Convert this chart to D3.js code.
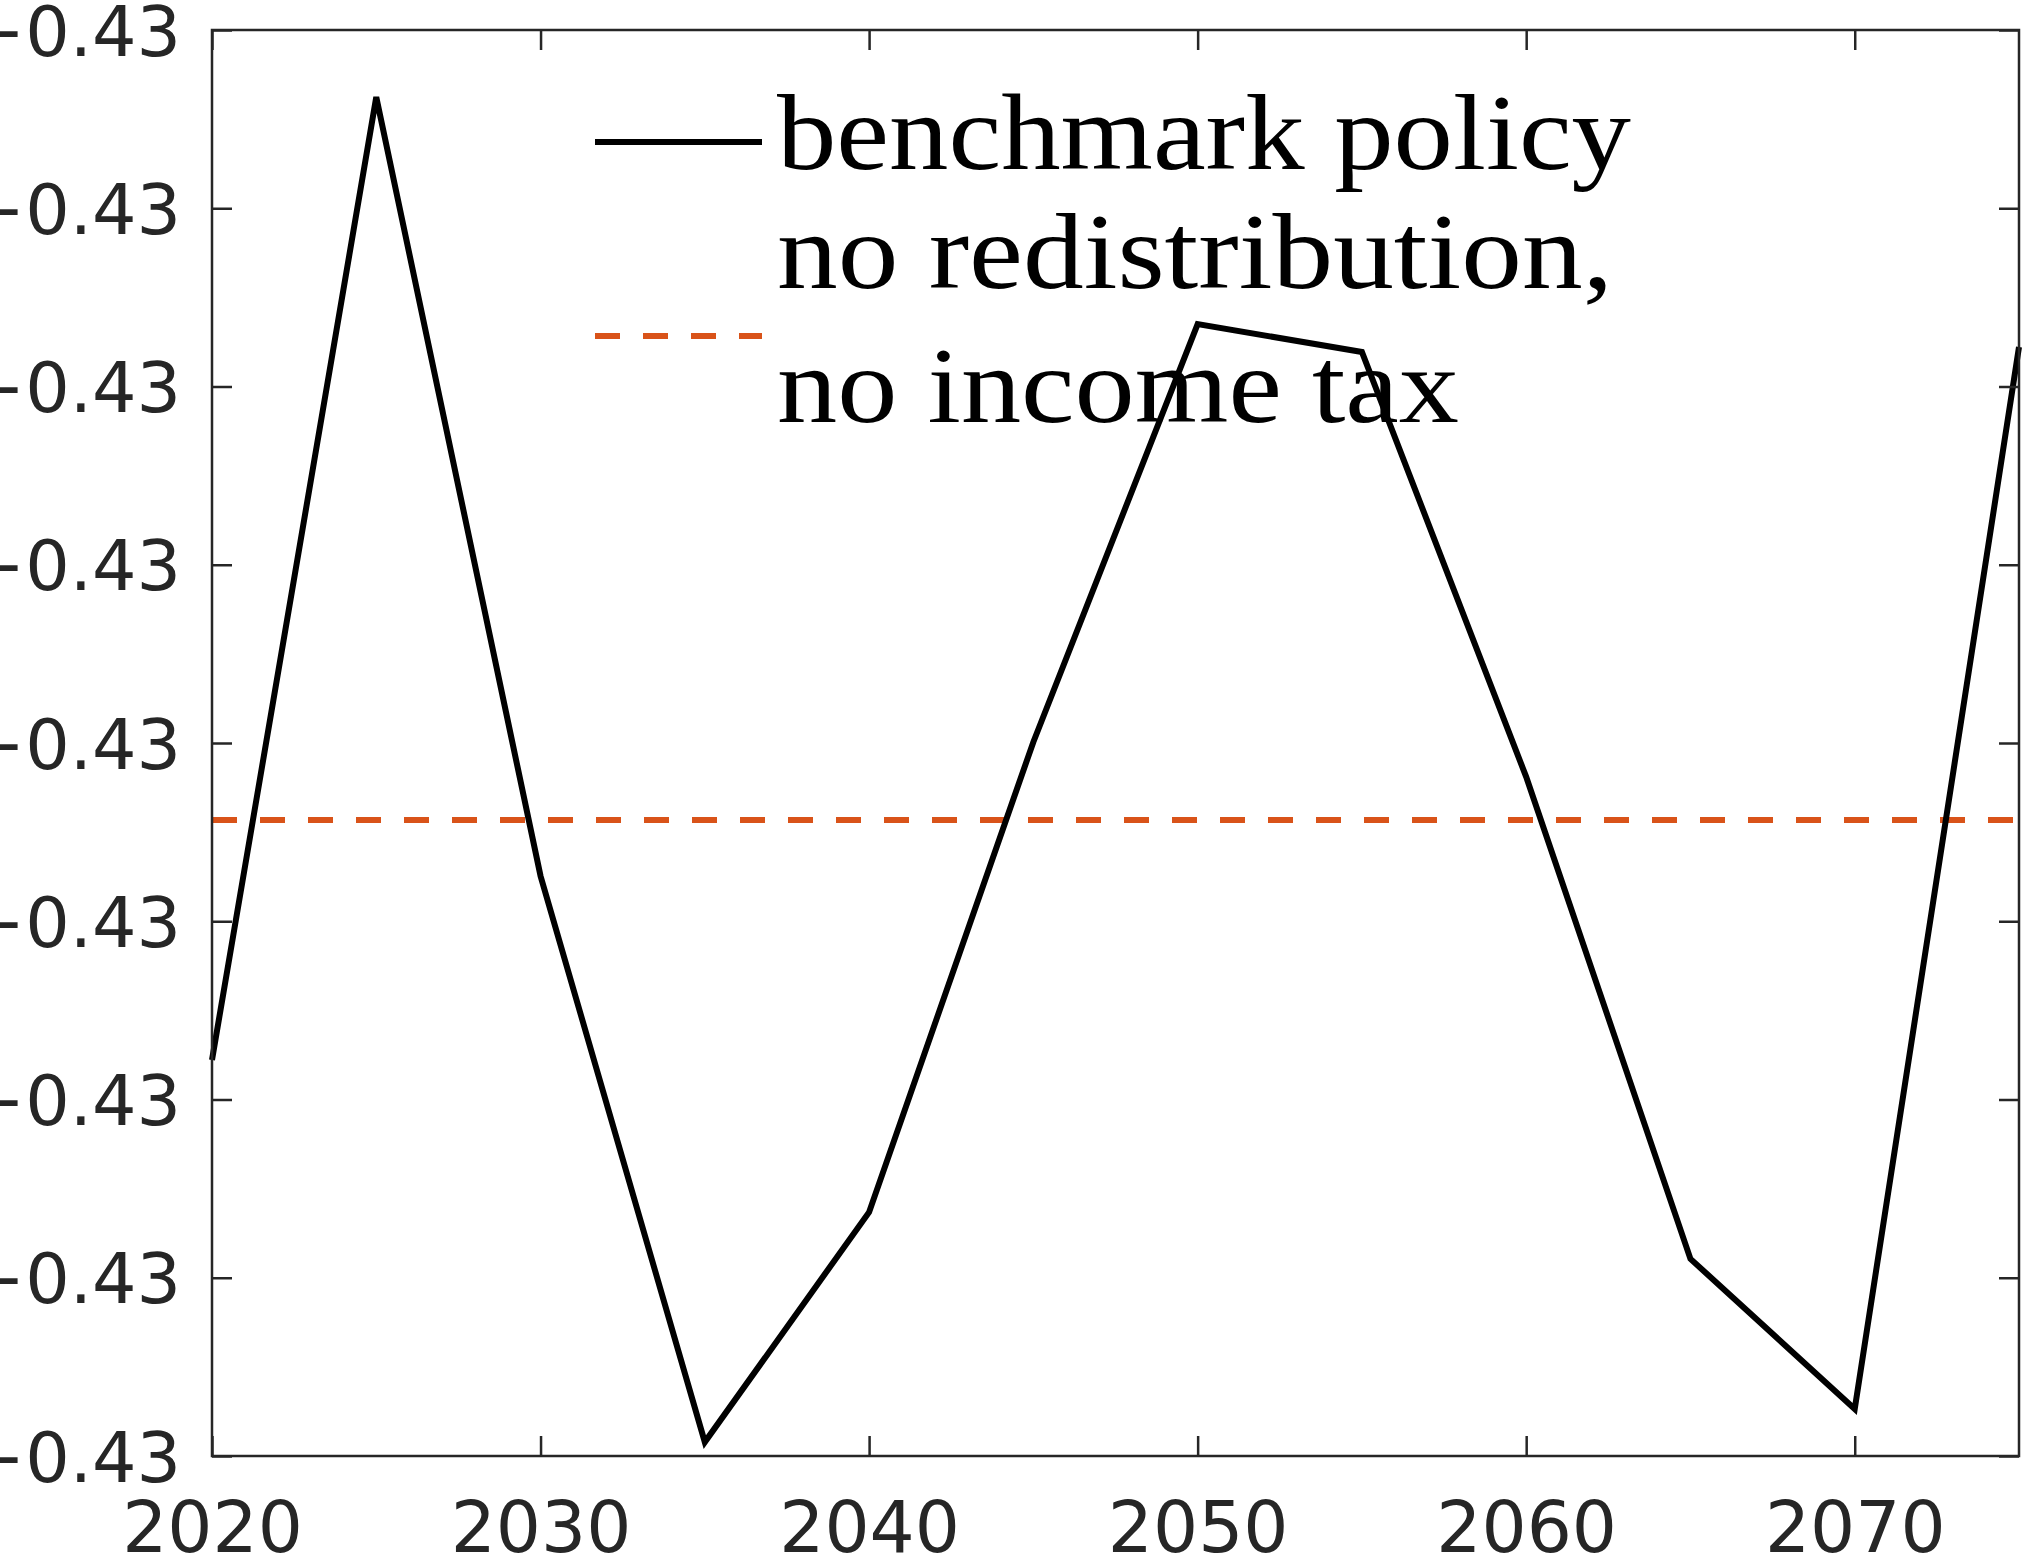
<!DOCTYPE html>
<html>
<head>
<meta charset="utf-8">
<script src="https://cdn.jsdelivr.net/npm/d3@7"></script>
<style>
  body { margin: 0; background: #fff; }
</style>
</head>
<body>
<script>
// values
var years = [2020, 2025, 2030, 2035, 2040, 2045, 2050, 2055, 2060, 2065, 2070, 2075];
var benchmark = [-0.4300889, -0.4298188, -0.4300373, -0.4301961, -0.4301316, -0.4299997,
                 -0.4298825, -0.4298903, -0.4300095, -0.4301447, -0.4301868, -0.4298889];
var noRedistribution = [-0.4300216, -0.4300216, -0.4300216, -0.4300216, -0.4300216, -0.4300216,
                        -0.4300216, -0.4300216, -0.4300216, -0.4300216, -0.4300216, -0.4300216];
var xTicks = [2020, 2030, 2040, 2050, 2060, 2070];
var yTicks = [-0.43020, -0.43015, -0.43010, -0.43005, -0.43000, -0.42995, -0.42990, -0.42985, -0.42980];
var legendLabels = [["benchmark policy"], ["no redistribution,", "no income tax"]];

var W = 2025, H = 1554;
var margin = {top: 30, right: 6, bottom: 98, left: 212};
var axisColor = "#262626";

var xScale = d3.scaleLinear()
    .domain([2020, 2075])
    .range([margin.left, W - margin.right]);

var yScale = d3.scaleLinear()
    .domain([-0.4302, -0.4298])
    .range([H - margin.bottom, margin.top]);

var svg = d3.select("body")
            .append("svg")
            .attr("width", W)
            .attr("height", H);

var line = d3.line()
    .x(function(d) { return xScale(d[0]); })
    .y(function(d) { return yScale(d[1]); });

// dashed reference line
svg.append("path")
   .attr("fill", "none")
   .attr("stroke", "#D95319")
   .attr("stroke-width", 6)
   .attr("stroke-dasharray", "25,23")
   .attr("d", line(years.map(function(y, i) { return [y, noRedistribution[i]]; })));

// benchmark line
svg.append("path")
   .attr("fill", "none")
   .attr("stroke", "#000")
   .attr("stroke-width", 6)
   .attr("stroke-linejoin", "miter")
   .attr("d", line(years.map(function(y, i) { return [y, benchmark[i]]; })));

function styleAxis(g, size) {
  g.attr("font-family", "DejaVu Sans").attr("font-size", size);
  g.select(".domain").remove();
  g.selectAll(".tick line").attr("stroke", axisColor).attr("stroke-width", 2.5);
  g.selectAll(".tick text").attr("fill", axisColor);
}

// Y axis (left, labelled) and mirror (right)
svg.append("g")
   .attr("transform", "translate(" + margin.left + ",0)")
   .call(d3.axisLeft(yScale).tickValues(yTicks).tickFormat(d3.format(".2f"))
           .tickSizeInner(-20).tickSizeOuter(0).tickPadding(31))
   .call(styleAxis, 70)
   .selectAll(".tick text").attr("dy", "0.36em");

svg.append("g")
   .attr("transform", "translate(" + (W - margin.right) + ",0)")
   .call(d3.axisRight(yScale).tickValues(yTicks).tickFormat("")
           .tickSizeInner(-20).tickSizeOuter(0))
   .call(styleAxis, 70);

// X axis (bottom, labelled) and mirror (top)
svg.append("g")
   .attr("transform", "translate(0," + (H - margin.bottom) + ")")
   .call(d3.axisBottom(xScale).tickValues(xTicks).tickFormat(d3.format("d"))
           .tickSizeInner(-20).tickSizeOuter(0).tickPadding(46))
   .call(styleAxis, 71);

svg.append("g")
   .attr("transform", "translate(0," + margin.top + ")")
   .call(d3.axisTop(xScale).tickValues(xTicks).tickFormat("")
           .tickSizeInner(-20).tickSizeOuter(0))
   .call(styleAxis, 71);

// box
svg.append("rect")
   .attr("x", margin.left)
   .attr("y", margin.top)
   .attr("width", W - margin.left - margin.right)
   .attr("height", H - margin.top - margin.bottom)
   .attr("fill", "none")
   .attr("stroke", axisColor)
   .attr("stroke-width", 2.5);

// legend
var legend = svg.append("g")
   .attr("font-family", "Liberation Serif")
   .attr("font-size", 108)
   .attr("fill", "#000");

legend.append("line")
   .attr("x1", 595).attr("x2", 762)
   .attr("y1", 142).attr("y2", 142)
   .attr("stroke", "#000").attr("stroke-width", 6);

legend.append("line")
   .attr("x1", 595).attr("x2", 762)
   .attr("y1", 336).attr("y2", 336)
   .attr("stroke", "#D95319").attr("stroke-width", 6)
   .attr("stroke-dasharray", "25,23");

var textRows = [
  {text: legendLabels[0][0], y: 169, w: 854},
  {text: legendLabels[1][0], y: 288, w: 836},
  {text: legendLabels[1][1], y: 422, w: 682}
];

legend.selectAll("text")
   .data(textRows)
   .enter().append("text")
   .attr("x", 777)
   .attr("y", function(d) { return d.y; })
   .attr("textLength", function(d) { return d.w; })
   .attr("lengthAdjust", "spacingAndGlyphs")
   .text(function(d) { return d.text; });
</script>
</body>
</html>
